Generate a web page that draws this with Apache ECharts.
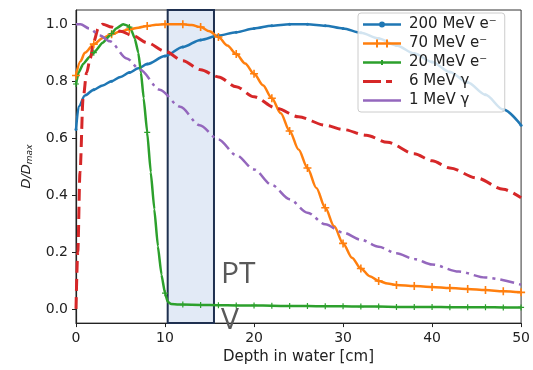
<!DOCTYPE html>
<html>
<head>
<meta charset="utf-8">
<script src="https://cdn.jsdelivr.net/npm/echarts@6.0.0/dist/echarts.min.js"></script>
<style>
html,body{margin:0;padding:0;background:#fff;}
#chart{width:533px;height:370px;}
</style>
</head>
<body>
<div id="chart"></div>
<script>
// ---- data ----
const seriesNames = ['200 MeV e\u207B', '70 MeV e\u207B', '20 MeV e\u207B', '6 MeV \u03B3', '1 MeV \u03B3'];

const depth200 = [0, 0.3, 1, 2, 3, 4, 5, 6, 7, 8, 10, 12, 14, 16, 18, 20, 22, 24, 26, 28, 30, 32, 34, 36, 38, 40, 42, 44, 46, 48, 50];
const dose200  = [0.63, 0.71, 0.75, 0.77, 0.785, 0.80, 0.815, 0.83, 0.845, 0.86, 0.888, 0.92, 0.945, 0.96, 0.972, 0.985, 0.995, 1.0, 1.0, 0.995, 0.985, 0.97, 0.95, 0.925, 0.897, 0.867, 0.832, 0.795, 0.752, 0.70, 0.645];

const depth70 = [0, 0.5, 1, 2, 3, 4, 5, 6, 7, 8, 9, 10, 11, 12, 13, 14, 15, 16, 17, 18, 19, 20, 21, 22, 23, 24, 25, 26, 27, 28, 29, 30, 31, 32, 33, 34, 35, 36, 38, 40, 42, 44, 46, 48, 50];
const dose70  = [0.82, 0.87, 0.90, 0.93, 0.952, 0.965, 0.975, 0.982, 0.988, 0.994, 0.998, 1.0, 1.0, 1.0, 0.997, 0.99, 0.975, 0.955, 0.925, 0.895, 0.862, 0.826, 0.786, 0.74, 0.687, 0.625, 0.56, 0.495, 0.425, 0.355, 0.29, 0.23, 0.18, 0.142, 0.115, 0.098, 0.089, 0.084, 0.08, 0.077, 0.073, 0.07, 0.066, 0.062, 0.058];

const depth20 = [0, 0.3, 0.8, 1.5, 2, 3, 3.8, 4, 4.5, 5.3, 5.8, 6, 6.2, 6.6, 7, 7.3, 7.6, 8, 8.4, 8.8, 9.2, 9.6, 10, 10.3, 10.7, 11.5, 12, 14, 16, 18, 20, 22, 24, 26, 28, 30, 32, 34, 36, 38, 40, 42, 44, 46, 48, 50];
const dose20  = [0.79, 0.83, 0.86, 0.885, 0.90, 0.935, 0.96, 0.967, 0.985, 1.0, 0.995, 0.99, 0.98, 0.95, 0.90, 0.83, 0.74, 0.62, 0.48, 0.35, 0.22, 0.12, 0.055, 0.025, 0.017, 0.015, 0.015, 0.014, 0.013, 0.012, 0.012, 0.011, 0.010, 0.010, 0.009, 0.009, 0.008, 0.008, 0.007, 0.007, 0.007, 0.006, 0.006, 0.006, 0.005, 0.005];

const depth6 = [0, 0.2, 0.45, 0.8, 1.2, 1.6, 2, 2.5, 3, 4, 5, 6.4, 8, 10, 12, 14, 16, 18, 20, 22.5, 25, 28, 30, 32.6, 35, 38, 40, 42, 45, 48, 50];
const dose6  = [0.0, 0.2, 0.48, 0.74, 0.83, 0.88, 0.94, 0.985, 1.0, 0.99, 0.975, 0.96, 0.935, 0.905, 0.872, 0.84, 0.815, 0.78, 0.745, 0.705, 0.675, 0.645, 0.63, 0.61, 0.585, 0.545, 0.52, 0.495, 0.46, 0.42, 0.39];

const depth1 = [0, 0.5, 1.5, 2.7, 3.8, 5.7, 7.2, 9.4, 11.7, 13.9, 16, 18, 20, 22, 24, 26, 28, 30, 32, 34, 36, 38, 40, 43, 46, 50];
const dose1  = [1.0, 1.0, 0.985, 0.96, 0.94, 0.88, 0.84, 0.77, 0.71, 0.645, 0.595, 0.54, 0.49, 0.435, 0.385, 0.338, 0.297, 0.268, 0.243, 0.218, 0.195, 0.175, 0.156, 0.131, 0.11, 0.085];

const yTickValues = [0, 0.2, 0.4, 0.6, 0.8, 1.0];
const yTickLabels = ['0.0', '0.2', '0.4', '0.6', '0.8', '1.0'];
const xTickValues = [0, 10, 20, 30, 40, 50];
const ptvRange = [10.3, 15.5];
const annotation = 'PT\nV';

// ---- styles ----
const colors = ['#1f77b4', '#ff7f0e', '#2ca02c', '#d62728', '#9467bd'];
const plusPath = 'path://M-1,-5h2v4h4v2h-4v4h-2v-4h-4v-2h4z';
const FONT = 'DejaVu Sans';

// legend icons drawn in a 38x12 box (tiny corner anchors keep the box size)
const anchors = 'M0,0h0.01v0.01h-0.01z M37.99,11.99h0.01v0.01h-0.01z ';
const legendIcons = [
  'path://' + anchors + 'M0,4.8h17v2.4h-17z M21,4.8h17v2.4h-17z M16,6a3,3 0 1,1 6,0a3,3 0 1,1 -6,0z',
  'path://' + anchors + 'M0,4.8h38v2.4h-38z M13,2h2v8h-2z M23,2h2v8h-2z',
  'path://' + anchors + 'M0,4.8h38v2.4h-38z M18,3.5h2v5h-2z',
  'path://' + anchors + 'M0,4.5h18v3h-18z M23,4.5h6v3h-6z',
  'path://' + anchors + 'M0,4.8h38v2.4h-38z'
];

function withMarkers(xs, ys, symbol, size) {
  return xs.map((x, i) => {
    const isMark = symbol && Number.isInteger(x) && x % 2 === 0;
    return isMark ? { value: [x, ys[i]], symbol: symbol, symbolSize: size }
                  : { value: [x, ys[i]], symbol: 'none' };
  });
}

const chart = echarts.init(document.getElementById('chart'), null, { renderer: 'canvas' });

const lineBase = {
  type: 'line',
  smooth: 0.3,
  smoothMonotone: 'x',
  showAllSymbol: true,
  animation: false,
  emphasis: { disabled: true }
};

chart.setOption({
  animation: false,
  backgroundColor: '#ffffff',
  grid: {
    left: 76, right: 10, top: 10, bottom: 35,
    show: true, borderColor: '#333', borderWidth: 1, backgroundColor: 'transparent'
  },
  xAxis: {
    type: 'value', min: 0, max: 50, interval: 10,
    name: 'Depth in water [cm]', nameLocation: 'middle', nameGap: 22,
    nameTextStyle: { fontFamily: FONT, fontSize: 15, color: '#222' },
    axisLine: { show: true, onZero: false, lineStyle: { color: '#222', width: 1.2 } },
    axisTick: { show: true, inside: false, length: 4, lineStyle: { color: '#222' }, customValues: xTickValues },
    axisLabel: { fontFamily: FONT, fontSize: 14, color: '#222', margin: 8, customValues: xTickValues },
    splitLine: { show: false }
  },
  yAxis: {
    type: 'value', min: -0.05, max: 1.05,
    name: '{i|D/D}{s|max}', nameLocation: 'middle', nameGap: 42, nameRotate: 90,
    nameTextStyle: {
      rich: {
        i: { fontFamily: FONT, fontStyle: 'italic', fontSize: 13, color: '#222' },
        s: { fontFamily: FONT, fontStyle: 'italic', fontSize: 9, color: '#222', padding: [6, 0, 0, 0] }
      }
    },
    axisLine: { show: true, onZero: false, lineStyle: { color: '#222', width: 1.2 } },
    axisTick: { show: true, inside: false, length: 4, lineStyle: { color: '#222' }, customValues: yTickValues },
    axisLabel: {
      fontFamily: FONT, fontSize: 14, color: '#222', margin: 8, customValues: yTickValues,
      formatter: v => yTickLabels[yTickValues.findIndex(t => Math.abs(t - v) < 1e-6)] ?? v.toFixed(1)
    },
    splitLine: { show: false }
  },
  legend: {
    orient: 'vertical', left: 358, top: 13,
    data: seriesNames.map((n, i) => ({ name: n, icon: legendIcons[i], itemStyle: { color: colors[i] } })),
    itemWidth: 38, itemHeight: 12, itemGap: 4,
    padding: [4, 8, 4, 5],
    backgroundColor: 'rgba(255,255,255,0.8)',
    borderColor: '#cccccc', borderWidth: 1, borderRadius: 3,
    textStyle: { fontFamily: FONT, fontSize: 15, color: '#222', padding: [0, 0, 0, 3] },
    selectedMode: false
  },
  series: [
    Object.assign({}, lineBase, {
      name: seriesNames[0], color: colors[0], symbol: 'circle',
      data: withMarkers(depth200, dose200, 'circle', 3),
      lineStyle: { width: 2.5 }, itemStyle: { color: colors[0] }
    }),
    Object.assign({}, lineBase, {
      name: seriesNames[1], color: colors[1], symbol: plusPath,
      data: withMarkers(depth70, dose70, plusPath, 8),
      lineStyle: { width: 2.5 }, itemStyle: { color: colors[1] }
    }),
    Object.assign({}, lineBase, {
      name: seriesNames[2], color: colors[2], symbol: plusPath, smooth: 0.15,
      data: withMarkers(depth20, dose20, plusPath, 6),
      lineStyle: { width: 2.5 }, itemStyle: { color: colors[2] }
    }),
    Object.assign({}, lineBase, {
      name: seriesNames[3], color: colors[3], symbol: 'none',
      data: withMarkers(depth6, dose6, null, 0),
      lineStyle: { width: 3, type: [12, 6] }, itemStyle: { color: colors[3] }
    }),
    Object.assign({}, lineBase, {
      name: seriesNames[4], color: colors[4], symbol: 'none',
      data: withMarkers(depth1, dose1, null, 0),
      lineStyle: { width: 2.5, type: [14, 5, 3, 5] }, itemStyle: { color: colors[4] }
    }),
    {
      type: 'line', name: 'PTV', data: [], z: 10, clip: false, silent: true,
      markArea: {
        silent: true,
        itemStyle: { color: 'rgba(190,208,236,0.45)', borderColor: '#1f3050', borderWidth: 2 },
        data: [[{ xAxis: ptvRange[0], yAxis: -0.058 }, { xAxis: ptvRange[1], yAxis: 1.062 }]]
      }
    }
  ],
  graphic: [
    {
      type: 'text', left: 221, top: 251, z: 20, silent: true,
      style: { text: annotation, fontFamily: 'Open Sans', fontSize: 30, lineHeight: 46, fill: '#595959' }
    }
  ]
});
</script>
</body>
</html>
